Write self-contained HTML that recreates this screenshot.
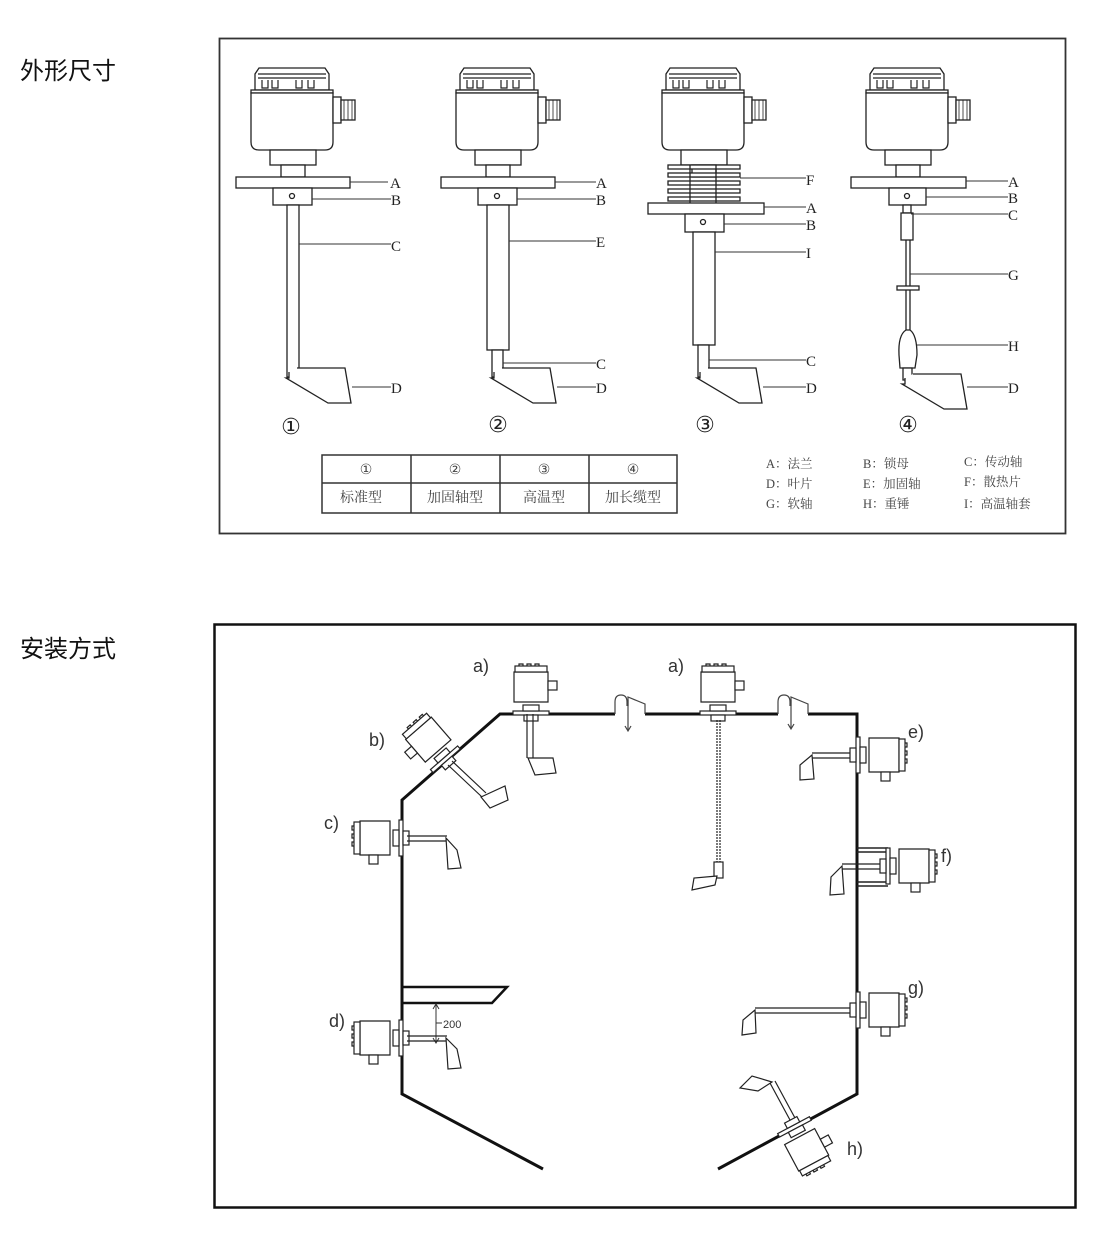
<!DOCTYPE html>
<html><head><meta charset="utf-8"><style>
html,body{margin:0;padding:0;background:#fff;}
svg{display:block}
</style></head><body>
<svg width="1110" height="1246" viewBox="0 0 1110 1246" xmlns="http://www.w3.org/2000/svg" font-family="'Liberation Serif','Noto Serif CJK SC',serif">
<defs>
  <g id="head" fill="#fff" stroke="#222" stroke-width="1.3">
    <path d="M-37,24 L-37,8 L-33,2 L33,2 L37,8 L37,24 Z"/>
    <g fill="none" stroke-width="1.2">
      <path d="M-30,14 v8 h6 v-8 M-20,14 v8 h6 v-8 M4,14 v8 h6 v-8 M16,14 v8 h6 v-8"/>
      <path d="M-34,8 h68 M-34,12 h68"/>
    </g>
    <rect x="-41" y="24" width="82" height="3" />
    <path d="M-41,27 L41,27 L41,76 Q41,84 33,84 L-33,84 Q-41,84 -41,76 Z"/>
    <rect x="41" y="31" width="8" height="26"/>
    <rect x="49" y="34" width="14" height="20"/>
    <path d="M52,34 v20 M56,34 v20 M60,34 v20" fill="none" stroke-width="0.8"/>
    <rect x="-22" y="84" width="46" height="15"/>
    <rect x="-11" y="99" width="24" height="12"/>
  </g>
  <g id="blade" fill="#fff" stroke="#222" stroke-width="1.3">
    <path d="M0,0 L0,6 L-3,6 L39,31 L62,31 L56,-4 L8,-4"/>
  </g>
  <g id="ss" fill="#fff" stroke="#222" stroke-width="1.2">
    <rect x="-3" y="-18" width="4" height="36"/>
    <rect x="1" y="-7" width="6" height="14"/>
    <rect x="-9" y="-8" width="6" height="16"/>
    <path d="M-12,-17 L-42,-17 L-42,17 L-12,17 Z"/>
    <rect x="-48" y="-16" width="6" height="32"/>
    <path d="M-48,-12 h-2 v4 h2 M-48,-4 h-2 v4 h2 M-48,4 h-2 v4 h2" fill="none"/>
    <rect x="-33" y="17" width="9" height="9"/>
  </g>
</defs>

<g font-family="'Liberation Sans','Noto Sans CJK SC',sans-serif" font-size="24" fill="#111">
  <text x="20" y="79">外形尺寸</text>
  <text x="20" y="657">安装方式</text>
</g>

<rect x="219.5" y="38.5" width="846" height="495" fill="none" stroke="#333" stroke-width="1.8"/>

<g stroke="#222" stroke-width="1.3" fill="#fff">
  <use href="#head" x="292" y="66"/>
  <rect x="236" y="177" width="114" height="11"/>
  <rect x="273" y="188" width="39" height="17"/>
  <circle cx="292" cy="196" r="2.5" fill="none"/>
  <rect x="287" y="205" width="12" height="172"/>
  <use href="#blade" x="289" y="372"/>
  <use href="#head" x="497" y="66"/>
  <rect x="441" y="177" width="114" height="11"/>
  <rect x="478" y="188" width="39" height="17"/>
  <circle cx="497" cy="196" r="2.5" fill="none"/>
  <rect x="487" y="205" width="22" height="145"/>
  <rect x="492" y="350" width="11" height="27"/>
  <use href="#blade" x="494" y="372"/>
  <use href="#head" x="703" y="66"/>
  <g>
    <rect x="668" y="165" width="72" height="4"/>
    <rect x="668" y="173" width="72" height="4"/>
    <rect x="668" y="181" width="72" height="4"/>
    <rect x="668" y="189" width="72" height="4"/>
    <rect x="668" y="197" width="72" height="4"/>
    <path d="M690,165 v38 M716,165 v38" fill="none"/>
  </g>
  <rect x="648" y="203" width="116" height="11"/>
  <rect x="685" y="214" width="39" height="18"/>
  <circle cx="703" cy="222" r="2.5" fill="none"/>
  <rect x="693" y="232" width="22" height="113"/>
  <rect x="698" y="345" width="11" height="32"/>
  <use href="#blade" x="700" y="372"/>
  <use href="#head" x="907" y="66"/>
  <rect x="851" y="177" width="115" height="11"/>
  <rect x="889" y="188" width="37" height="17"/>
  <circle cx="907" cy="196" r="2.5" fill="none"/>
  <rect x="903" y="205" width="8" height="8"/>
  <rect x="901" y="213" width="12" height="27"/>
  <path d="M906,240 v90 M910,240 v90" fill="none"/>
  <rect x="897" y="286" width="22" height="4"/>
  <path d="M906,330 Q898,335 899,355 L900,368 L915,368 L917,355 Q917,335 910,330 Z"/>
  <rect x="903" y="368" width="9" height="12"/>
  <use href="#blade" x="905" y="378"/>
</g>

<g stroke="#333" stroke-width="1" fill="none">
  <path d="M350,182 H388 M312,199 H391 M299,244 H391 M352,387 H391"/>
  <path d="M555,182 H596 M517,199 H596 M509,241 H596 M503,363 H596 M557,387 H596"/>
  <path d="M740,178 H806 M764,207 H806 M724,224 H806 M715,252 H806 M709,360 H806 M763,387 H806"/>
  <path d="M966,181 H1008 M926,197 H1008 M911,214 H1008 M910,274 H1008 M917,345 H1008 M967,387 H1008"/>
</g>
<g font-size="15" fill="#222">
  <text x="390" y="188">A</text><text x="391" y="205">B</text><text x="391" y="251">C</text><text x="391" y="393">D</text>
  <text x="596" y="188">A</text><text x="596" y="205">B</text><text x="596" y="247">E</text><text x="596" y="369">C</text><text x="596" y="393">D</text>
  <text x="806" y="185">F</text><text x="806" y="213">A</text><text x="806" y="230">B</text><text x="806" y="258">I</text><text x="806" y="366">C</text><text x="806" y="393">D</text>
  <text x="1008" y="187">A</text><text x="1008" y="203">B</text><text x="1008" y="220">C</text><text x="1008" y="280">G</text><text x="1008" y="351">H</text><text x="1008" y="393">D</text>
</g>
<g font-size="22" fill="#222" text-anchor="middle" font-family="'DejaVu Sans',sans-serif">
  <text x="291" y="434">①</text><text x="498" y="432">②</text><text x="705" y="432">③</text><text x="908" y="432">④</text>
</g>

<g stroke="#333" stroke-width="1.5" fill="none">
  <rect x="322" y="455" width="355" height="58"/>
  <path d="M322,483 H677 M411,455 V513 M500,455 V513 M589,455 V513"/>
</g>
<g font-size="14" fill="#444" text-anchor="middle">
  <text x="366" y="474" font-family="'DejaVu Sans',sans-serif">①</text>
  <text x="455" y="474" font-family="'DejaVu Sans',sans-serif">②</text>
  <text x="544" y="474" font-family="'DejaVu Sans',sans-serif">③</text>
  <text x="633" y="474" font-family="'DejaVu Sans',sans-serif">④</text>
  <text x="361" y="502">标准型</text><text x="455" y="502">加固轴型</text><text x="544" y="502">高温型</text><text x="633" y="502">加长缆型</text>
</g>
<g font-size="12.5" fill="#444">
  <text x="766" y="468">A：法兰</text><text x="863" y="468">B：锁母</text><text x="964" y="466">C：传动轴</text>
  <text x="766" y="488">D：叶片</text><text x="863" y="488">E：加固轴</text><text x="964" y="486">F：散热片</text>
  <text x="766" y="508">G：软轴</text><text x="863" y="508">H：重锤</text><text x="964" y="508">I：高温轴套</text>
</g>

<rect x="214.5" y="624.5" width="861" height="583" fill="none" stroke="#111" stroke-width="2.5"/>

<g stroke="#111" stroke-width="3" fill="none" stroke-linejoin="miter">
  <path d="M615,714 H500 L402,800 V1094 L543,1169"/>
  <path d="M645,714 H778 M808,714 H857 V1094 L718,1169"/>
</g>
<g stroke="#444" stroke-width="1.2" fill="none">
  <path d="M615,714 V702 Q615,695 621,695 Q627,695 627,702 V706 M628,706 V697 L645,704 V714"/>
  <path d="M628,700 V730 M625,726 L628,731 L631,726"/>
  <path d="M778,714 V702 Q778,695 784,695 Q790,695 790,702 V706 M791,706 V697 L808,704 V714"/>
  <path d="M791,700 V728 M788,724 L791,729 L794,724"/>
</g>
<g stroke="#111" stroke-width="2.5" fill="none">
  <path d="M402,987 H507 L492,1003 H402"/>
</g>
<g stroke="#333" stroke-width="1" fill="none">
  <path d="M436,1004 V1043 M433,1009 L436,1004 L439,1009 M433,1038 L436,1043 L439,1038 M436,1023 H442"/>
</g>
<text x="443" y="1028" font-family="'Liberation Sans',sans-serif" font-size="11" fill="#333">200</text>

<g stroke="#222" stroke-width="1.2" fill="#fff">
  <g transform="translate(531,714) rotate(90) scale(1,-1)"><use href="#ss"/></g>
  <path d="M527,714 V758 M533,714 V758" fill="none"/>
  <path d="M528,758 L553,758 L556,773 L535,775 Z"/>
  <g transform="translate(718,714) rotate(90) scale(1,-1)"><use href="#ss"/></g>
  <path d="M717,720 V870 M720,720 V870" fill="none" stroke-dasharray="2,1"/>
  <rect x="714" y="862" width="9" height="16"/>
  <path d="M717,876 L694,878 L692,890 L715,885 Z"/>
  <g transform="translate(446,760) rotate(49)"><use href="#ss"/></g>
  <path d="M448,765 L482,797 M452,761 L486,793" fill="none"/>
  <path d="M481,797 L505,786 L508,800 L490,808 Z"/>
  <g transform="translate(402,838)"><use href="#ss"/></g>
  <path d="M407,836 H447 M407,841 H447" fill="none"/>
  <path d="M446,838 L457,850 L461,868 L448,869 Z"/>
  <g transform="translate(402,1038)"><use href="#ss"/></g>
  <path d="M407,1036 H447 M407,1041 H447" fill="none"/>
  <path d="M446,1038 L457,1049 L461,1068 L448,1069 Z"/>
  <g transform="translate(857,755) scale(-1,1)"><use href="#ss"/></g>
  <path d="M850,753 H812 M850,758 H812" fill="none"/>
  <path d="M812,755 L800,765 L800,780 L814,779 Z"/>
  <path d="M857,848 H888 M857,886 H888 M857,852 H888 M857,882 H888" fill="none" stroke-width="1.5"/>
  <g transform="translate(887,866) scale(-1,1)"><use href="#ss"/></g>
  <path d="M880,864 H842 M880,869 H842" fill="none"/>
  <path d="M842,866 L831,877 L830,895 L844,894 Z"/>
  <g transform="translate(857,1010) scale(-1,1)"><use href="#ss"/></g>
  <path d="M850,1008 H755 M850,1013 H755" fill="none"/>
  <path d="M755,1010 L743,1020 L742,1035 L756,1033 Z"/>
  <g transform="translate(794,1126) rotate(-118)"><use href="#ss"/></g>
  <path d="M790,1120 L770,1083 M795,1118 L775,1081" fill="none"/>
  <path d="M772,1082 L758,1091 L740,1088 L752,1076 Z"/>
</g>

<g font-family="'Liberation Sans',sans-serif" font-size="18" fill="#333">
  <text x="473" y="672">a)</text><text x="668" y="672">a)</text>
  <text x="369" y="746">b)</text><text x="324" y="829">c)</text><text x="329" y="1027">d)</text>
  <text x="908" y="738">e)</text><text x="941" y="862">f)</text><text x="908" y="994">g)</text><text x="847" y="1155">h)</text>
</g>
</svg>
</body></html>
